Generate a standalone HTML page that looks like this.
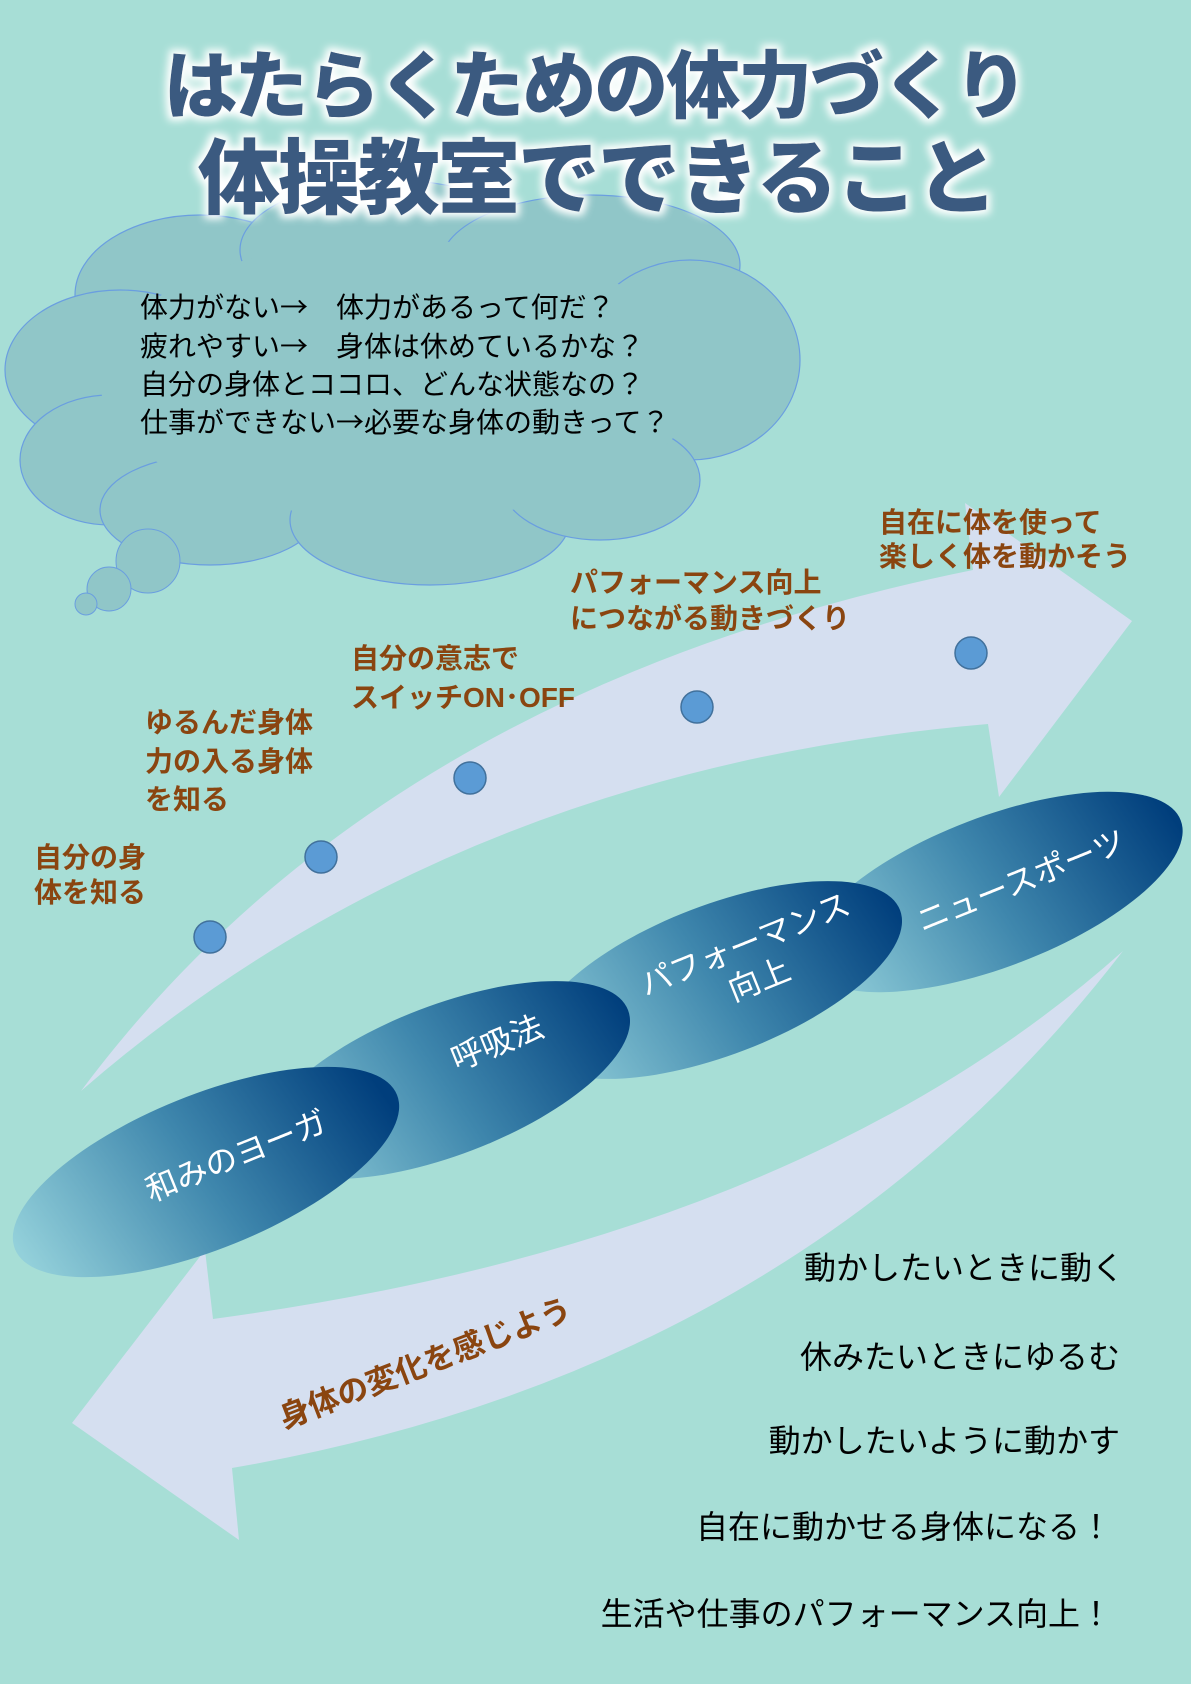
<!DOCTYPE html>
<html><head><meta charset="utf-8"><style>
html,body{margin:0;padding:0;background:#a7ded6;}
svg{display:block;}
.t{font-family:"Liberation Sans","Noto Sans CJK JP",sans-serif;}
.a{font-family:"Noto Sans CJK JP",sans-serif;}
</style></head><body>
<svg width="1191" height="1684" viewBox="0 0 1191 1684" xmlns="http://www.w3.org/2000/svg">
<defs>
<linearGradient id="g" gradientUnits="userSpaceOnUse" x1="-190" y1="60" x2="190" y2="-25">
<stop offset="0" stop-color="#93d0da"/><stop offset="0.5" stop-color="#3f87ad"/><stop offset="1" stop-color="#003e7c"/>
</linearGradient>
<filter id="glow" x="-10%" y="-30%" width="120%" height="160%">
<feMorphology in="SourceAlpha" operator="dilate" radius="4" result="d"/>
<feGaussianBlur in="d" stdDeviation="4" result="b"/>
<feFlood flood-color="#ffffff"/><feComposite in2="b" operator="in" result="w"/>
<feMerge><feMergeNode in="w"/><feMergeNode in="SourceGraphic"/></feMerge>
</filter>
</defs>
<rect width="1191" height="1684" fill="#a7ded6"/>

<!-- cloud -->
<g fill="#90c6c8" stroke="#6a9ee0" stroke-width="1.2">
<ellipse cx="200" cy="295" rx="125" ry="80"/>
<ellipse cx="390" cy="250" rx="150" ry="70"/>
<ellipse cx="590" cy="265" rx="150" ry="70"/>
<ellipse cx="690" cy="360" rx="110" ry="100"/>
<ellipse cx="120" cy="370" rx="115" ry="80"/>
<ellipse cx="110" cy="460" rx="90" ry="65"/>
<ellipse cx="210" cy="510" rx="110" ry="55"/>
<ellipse cx="430" cy="520" rx="140" ry="65"/>
<ellipse cx="600" cy="480" rx="100" ry="60"/>
<ellipse cx="400" cy="380" rx="300" ry="140" stroke="none"/>
</g>
<g fill="#90c6c8" stroke="#6a9ee0" stroke-width="1">
<circle cx="148" cy="561" r="32"/>
<circle cx="109" cy="589" r="22"/>
<circle cx="86" cy="604" r="11"/>
</g>
<g class="t" font-size="28" fill="#000">
<text x="140" y="317">体力がない<tspan class="a">→</tspan>　体力があるって何だ？</text>
<text x="140" y="356">疲れやすい<tspan class="a">→</tspan>　身体は休めているかな？</text>
<text x="140" y="394">自分の身体とココロ、どんな状態なの？</text>
<text x="140" y="432">仕事ができない<tspan class="a">→</tspan>必要な身体の動きって？</text>
</g>

<!-- title -->
<g class="t" font-weight="900" fill="#3b5a80" text-anchor="middle" filter="url(#glow)">
<text x="595" y="112" font-size="74" letter-spacing="-2">はたらくための体力づくり</text>
<text x="597" y="207" font-size="82" letter-spacing="-2">体操教室でできること</text>
</g>

<!-- upper arrow -->
<path d="M81,1091 Q380,690 973,570 L965,503 L1132,621 L999,797 L988,724 Q450,770 81,1091 Z" fill="#d5dff0"/>
<!-- lower arrow -->
<path d="M1123,951 Q800,1370 232,1468 L239,1540 L72,1423 L205,1250 L213,1319 Q800,1240 1123,951 Z" fill="#d5dff0"/>

<!-- dots -->
<g fill="#5b9bd5" stroke="#41719c" stroke-width="1.5">
<circle cx="210" cy="937" r="16"/><circle cx="321" cy="857" r="16"/>
<circle cx="470" cy="778" r="16"/><circle cx="697" cy="707" r="16"/>
<circle cx="971" cy="653" r="16"/>
</g>

<!-- brown labels -->
<g class="t" font-size="28" font-weight="bold" fill="#8a4510">
<text x="34" y="867">自分の身</text><text x="34" y="902">体を知る</text>
<text x="145" y="732">ゆるんだ身体</text><text x="145" y="771">力の入る身体</text><text x="145" y="809">を知る</text>
<text x="351" y="668">自分の意志で</text><text x="351" y="707">スイッチON･OFF</text>
<text x="570" y="592">パフォーマンス向上</text><text x="570" y="628">につながる動きづくり</text>
<text x="879" y="532">自在に体を使って</text><text x="879" y="566">楽しく体を動かそう</text>
<text transform="translate(425,1363) rotate(-21)" font-size="31" text-anchor="middle" dy="11">身体の変化を感じよう</text>
</g>

<!-- ellipses -->
<g fill="url(#g)">
<ellipse rx="200" ry="75" transform="translate(994 892) rotate(-21)"/>
<ellipse rx="195" ry="75" transform="translate(718 980) rotate(-21)"/>
<ellipse rx="195" ry="75" transform="translate(446 1080) rotate(-21)"/>
<ellipse rx="206" ry="77" transform="translate(206 1172) rotate(-22)"/>
</g>
<g class="t" font-size="32" fill="#fff" text-anchor="middle">
<text transform="translate(236,1156) rotate(-22)" dy="11">和みのヨーガ</text>
<text transform="translate(497,1043) rotate(-22)" dy="11">呼吸法</text>
<text transform="translate(752,962) rotate(-22)"><tspan x="0" y="-8">パフォーマンス</tspan><tspan x="0" y="30">向上</tspan></text>
<text transform="translate(1021,881) rotate(-22)" dy="11">ニュースポーツ</text>
</g>

<!-- right texts -->
<g class="t" font-size="32" fill="#000" text-anchor="end">
<text x="1124" y="1279">動かしたいときに動く</text>
<text x="1120" y="1368">休みたいときにゆるむ</text>
<text x="1120" y="1452">動かしたいように動かす</text>
<text x="1112" y="1538">自在に動かせる身体になる！</text>
<text x="1112" y="1625">生活や仕事のパフォーマンス向上！</text>
</g>
</svg>
</body></html>
